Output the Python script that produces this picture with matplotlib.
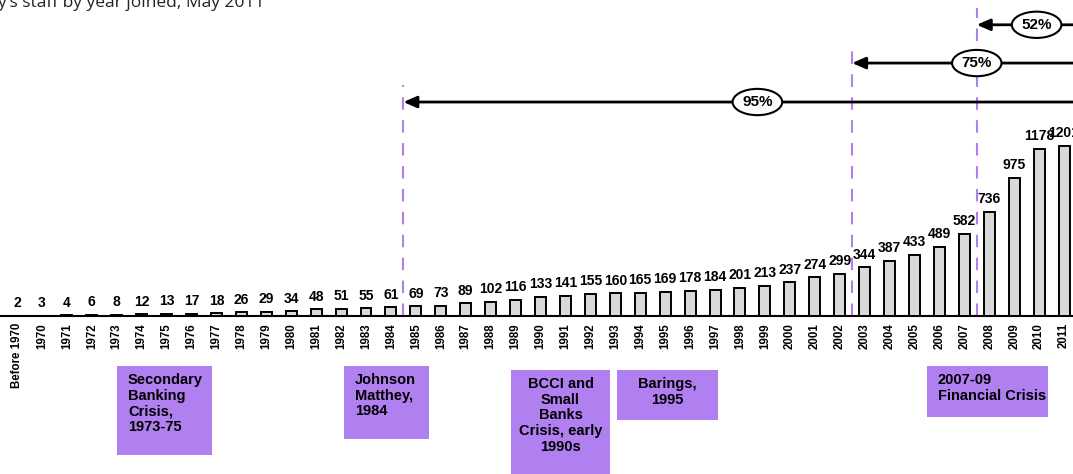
import matplotlib.pyplot as plt
from matplotlib.patches import Rectangle

years = ["Before 1970"] + [str(y) for y in range(1970, 2012)]
staff = [2, 3, 4, 6, 8, 12, 13, 17, 18, 26, 29, 34, 48, 51, 55, 61, 69, 73, 89, 102,
         116, 133, 141, 155, 160, 165, 169, 178, 184, 201, 213, 237, 274, 299, 344,
         387, 433, 489, 582, 736, 975, 1178, 1201]

# share of staff who joined after each marker (marker sits between two years)
share_labels = ["95%", "75%", "52%"]
share_after = ["1984", "2002", "2007"]
share_level = [1510, 1785, 2055]
share_label_x = [29.7, 38.5, 40.9]

crises = ["Secondary\nBanking\nCrisis,\n1973-75", "Johnson\nMatthey,\n1984",
          "BCCI and\nSmall\nBanks\nCrisis, early\n1990s", "Barings,\n1995",
          "2007-09\nFinancial Crisis"]

W, H = 1073, 474
bold = dict(family=["Liberation Sans", "DejaVu Sans"], fontweight="bold")
purple = "#b07ff0"

fig = plt.figure(figsize=(W / 100, H / 100), dpi=100)
ax = fig.add_axes([0, 0, 1, 1])
x = list(range(len(years)))
ax.bar(x, staff, width=0.44, color="#d9d9d9", edgecolor="black", linewidth=1.4, zorder=3)
for xi, v in zip(x, staff):
    ax.text(xi, v + 40, str(v), ha="center", va="bottom", fontsize=10, **bold)

ax.set_xlim(-0.682, 42.36)
ax.set_ylim(-1115, 2230)
ax.set_yticks([])
for s in ["top", "left", "right"]:
    ax.spines[s].set_visible(False)
ax.spines["bottom"].set_position(("data", 0))
ax.spines["bottom"].set_linewidth(1.5)
ax.set_xticks(x)
ax.set_xticklabels(years, rotation=90, fontsize=8.3, **bold)
ax.tick_params(axis="x", length=0, pad=5)

for lab, yr, lvl, lx in zip(share_labels, share_after, share_level, share_label_x):
    xm = years.index(yr) + 0.5
    ax.plot([xm, xm], [0, lvl + 120], color=purple, lw=1.5, dashes=(6, 5), zorder=2)
    ax.annotate("", xy=(xm, lvl), xytext=(43.5, lvl),
                arrowprops=dict(arrowstyle="-|>,head_length=0.8,head_width=0.35",
                                color="black", lw=2, shrinkA=0, shrinkB=0))
    ax.text(lx, lvl, lab, ha="center", va="center", fontsize=11, zorder=5,
            bbox=dict(boxstyle="ellipse,pad=0.15", fc="white", ec="black", lw=1.5), **bold)

# crisis boxes (pixel positions)
boxes = [(117, 366, 95, 89, "left"), (344, 366, 85, 73, "left"),
         (511, 370, 99, 110, "center"), (617, 370, 101, 50, "center"),
         (927, 366, 121, 51, "left")]
for txt, (bx, by, bw, bh, ha) in zip(crises, boxes):
    fig.patches.append(Rectangle((bx / W, 1 - (by + bh) / H), bw / W, bh / H,
                                 transform=fig.transFigure, fc=purple, ec="none"))
    tx = bx + 11 if ha == "left" else bx + bw / 2
    fig.text(tx / W, 1 - (by + 7) / H, txt, ha=ha, va="top", fontsize=10.5,
             linespacing=1.15, **bold)

fig.text(-3 / W, 1 - 3 / H, "y's staff by year joined, May 2011", ha="left",
         va="center", fontsize=12.5, color="#222222", family="Open Sans")

fig.savefig("out.png", dpi=100)
